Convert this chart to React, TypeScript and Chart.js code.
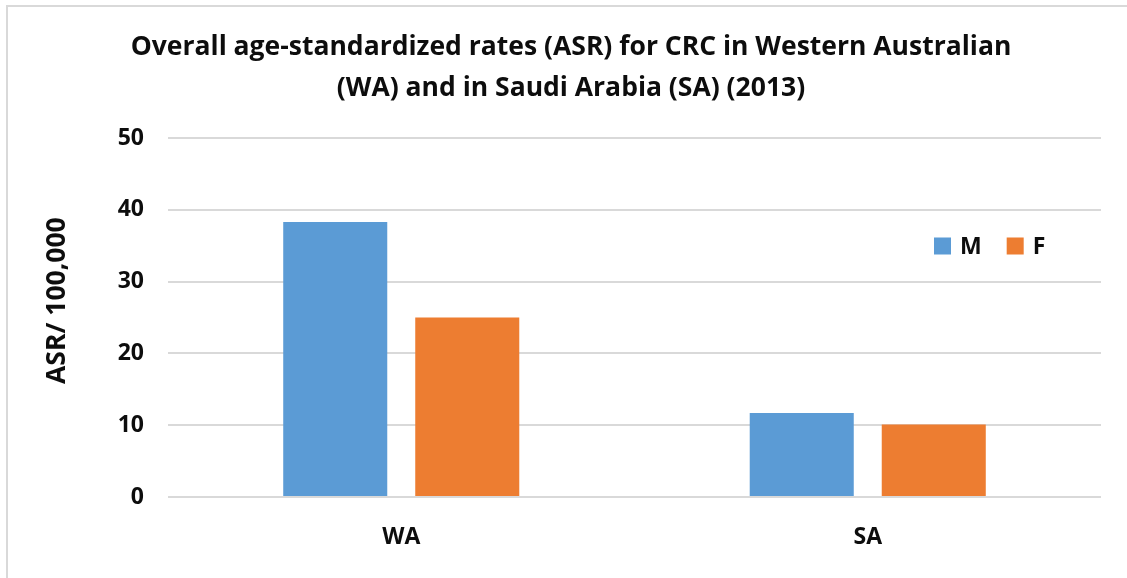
import React, { useEffect, useRef } from "react";
import { Chart, registerables } from "chart.js";

Chart.register(...registerables);

const categories = ["WA", "SA"];
const seriesLabels = ["M", "F"];
const maleValues = [38.3, 11.7];
const femaleValues = [25.0, 10.1];
const yTickValues = [0, 10, 20, 30, 40, 50];
const titleLines = [
  "Overall age-standardized rates (ASR) for CRC in Western Australian",
  "(WA) and in Saudi Arabia (SA) (2013)",
];
const yAxisTitle = "ASR/ 100,000";

const FONT = "'Open Sans', 'Noto Sans', sans-serif";
const TEXT = "#0d0d0d";

const insideLegend = {
  id: "insideLegend",
  afterDraw(chart: any, _args: any, opts: any) {
    const ctx = chart.ctx;
    ctx.save();
    ctx.font = `bold ${opts.fontSize}px ${FONT}`;
    ctx.textBaseline = "middle";
    ctx.textAlign = "left";
    let cx = opts.x;
    chart.data.datasets.forEach((ds: any) => {
      ctx.fillStyle = ds.backgroundColor;
      ctx.fillRect(cx, opts.y - opts.box / 2, opts.box, opts.box);
      ctx.fillStyle = TEXT;
      ctx.fillText(ds.label, cx + opts.box + opts.gap, opts.y + 1);
      cx += opts.box + opts.gap + ctx.measureText(ds.label).width + opts.itemGap;
    });
    ctx.restore();
  },
};

const yTitleShift = {
  id: "yTitleShift",
  afterLayout(chart: any, _args: any, opts: any) {
    const s: any = chart.scales.y;
    if (!s || s.__patched) return;
    const orig = s.drawTitle.bind(s);
    s.drawTitle = function () {
      const t = this.top;
      this.top = t - opts.shift * 2;
      orig();
      this.top = t;
    };
    s.__patched = true;
  },
};

export default function App() {
  const ref = useRef<HTMLCanvasElement | null>(null);

  useEffect(() => {
    if (!ref.current) return;
    const chart = new Chart(ref.current, {
      type: "bar",
      data: {
        labels: categories,
        datasets: [
          {
            label: seriesLabels[0],
            data: maleValues,
            backgroundColor: "#5B9BD5",
            borderWidth: 0,
          },
          {
            label: seriesLabels[1],
            data: femaleValues,
            backgroundColor: "#ED7D31",
            borderWidth: 0,
          },
        ],
      },
      plugins: [insideLegend, yTitleShift],
      options: {
        animation: false,
        responsive: true,
        maintainAspectRatio: false,
        datasets: {
          bar: { categoryPercentage: 0.566, barPercentage: 0.788 },
        },
        layout: { padding: { left: 41, right: 26, top: 0, bottom: 0 } },
        plugins: {
          legend: { display: false },
          tooltip: { enabled: false },
          title: {
            display: true,
            text: titleLines,
            color: TEXT,
            font: { family: FONT, size: 26.5, weight: "bold", lineHeight: 1.55 },
            padding: { top: 27, bottom: 29 },
          },
          insideLegend: { x: 934, y: 246, box: 17, gap: 9, itemGap: 25, fontSize: 23 },
          yTitleShift: { shift: 17 },
        } as any,
        scales: {
          x: {
            grid: { display: false, drawTicks: false },
            border: { display: false },
            ticks: {
              color: TEXT,
              font: { family: FONT, size: 23, weight: "bold" },
              padding: 27,
            },
            afterFit: (s: any) => {
              s.height = 81;
            },
          },
          y: {
            min: 0,
            max: 50,
            afterBuildTicks: (s: any) => {
              s.ticks = yTickValues.map((v) => ({ value: v }));
            },
            grid: { color: "#d9d9d9", lineWidth: 2, drawTicks: false },
            border: { display: false },
            ticks: {
              color: TEXT,
              font: { family: FONT, size: 23, weight: "bold" },
              padding: 24,
            },
            title: {
              display: true,
              text: yAxisTitle,
              color: TEXT,
              font: { family: FONT, size: 26.5, weight: "bold" },
              padding: { top: 1, bottom: 0 },
            },
            afterFit: (s: any) => {
              s.width = 127;
            },
          },
        },
      },
    });
    return () => chart.destroy();
  }, []);

  return (
    <div
      style={{
        position: "fixed",
        left: 0,
        top: 0,
        width: 1127,
        height: 578,
        overflow: "hidden",
        background: "#ffffff",
      }}
    >
      <div
        style={{
          position: "absolute",
          left: 6,
          top: 5,
          width: 1300,
          height: 800,
          borderLeft: "2px solid #d9d9d9",
          borderTop: "2px solid #d9d9d9",
          boxSizing: "border-box",
        }}
      />
      <canvas ref={ref} style={{ position: "absolute", left: 0, top: 0, width: 1127, height: 578 }} />
    </div>
  );
}
